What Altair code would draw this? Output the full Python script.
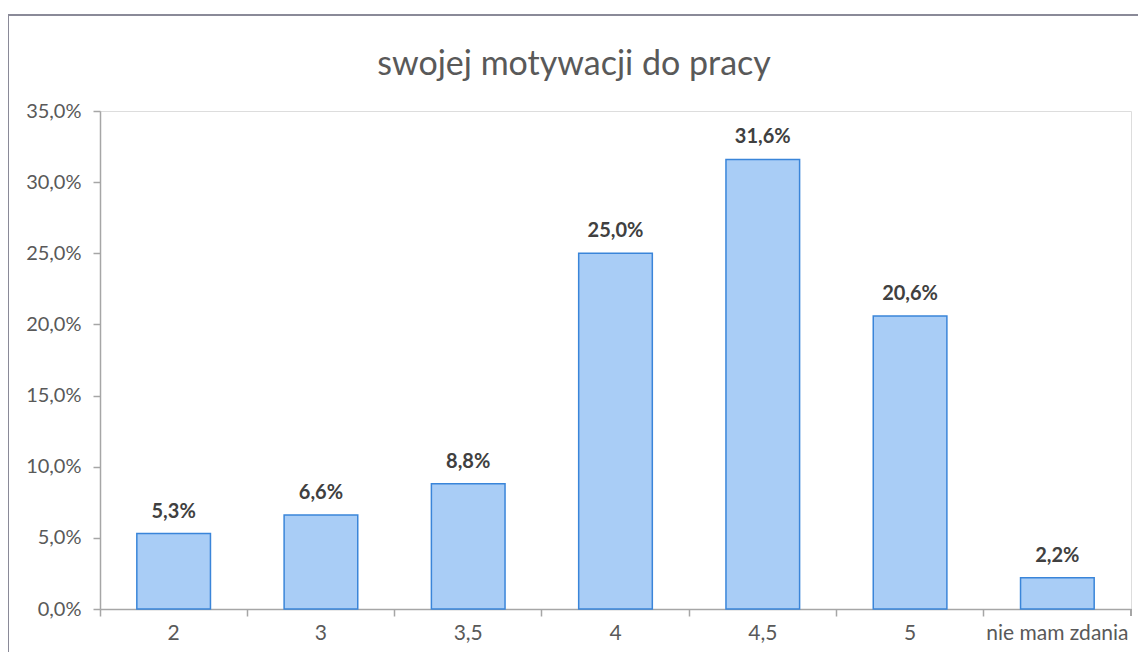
import altair as alt
import pandas as pd

categories = ["2", "3", "3,5", "4", "4,5", "5", "nie mam zdania"]
values = [5.3, 6.6, 8.8, 25.0, 31.6, 20.6, 2.2]
title_text = "swojej motywacji do pracy"

df = pd.DataFrame({"kat": categories, "val": values})
df["lab"] = [f"{v:.1f}%".replace(".", ",") for v in values]

FONT = "Lato"
GRAY = "#595959"

x = alt.X("kat:N", sort=categories, title=None,
          scale=alt.Scale(paddingInner=0.5, paddingOuter=0.25),
          axis=alt.Axis(labelAngle=0, labelFontSize=21, labelColor=GRAY, labelFont=FONT,
                        labelPadding=6, tickSize=7, tickColor="#a6a6a6", domainColor="#a6a6a6",
                        domainWidth=1.5, tickWidth=1.5, bandPosition=-0.5))
y = alt.Y("val:Q", title=None,
          scale=alt.Scale(domain=[0, 35], nice=False),
          axis=alt.Axis(values=[0, 5, 10, 15, 20, 25, 30, 35], grid=False,
                        labelExpr="replace(format(datum.value, '.1f'), '.', ',') + '%'",
                        labelFontSize=20, labelColor=GRAY, labelFont=FONT, labelPadding=12,
                        tickSize=7, tickColor="#a6a6a6", domainColor="#a6a6a6",
                        domainWidth=1.5, tickWidth=1.5))

base = alt.Chart(df)
bars = base.mark_bar(fill="#a9cdf6", stroke="#3a85d9", strokeWidth=1.5).encode(x=x, y=y)
text = base.mark_text(baseline="bottom", dy=-12, fontSize=20, fontWeight="bold",
                      color="#404040", font=FONT).encode(x=x, y=y, text="lab:N")

title = alt.Chart(pd.DataFrame({"t": [title_text]})).mark_text(
    fontSize=34, font=FONT, color=GRAY, baseline="alphabetic", align="center").encode(
    x=alt.value(474), y=alt.value(-36), text="t:N")

endtick = alt.Chart(df).mark_rule(color="#a6a6a6", strokeWidth=1.5).encode(
    x=alt.value(1031), y=alt.value(498), y2=alt.value(505))
border_top = alt.Chart(df).mark_rule(color="#8a8a98", strokeWidth=1.5).encode(
    x=alt.value(-92), x2=alt.value(1060), y=alt.value(-96))
border_left = alt.Chart(df).mark_rule(color="#8a8a98", strokeWidth=1.5).encode(
    x=alt.value(-92), y=alt.value(-96), y2=alt.value(560))

chart = alt.layer(bars, text, title, endtick, border_top, border_left).properties(
    width=1031, height=498,
    padding={"left": 92, "top": 103, "right": 7, "bottom": 43},
    autosize=alt.AutoSizeParams(type="none"),
).configure_view(stroke=None).configure(background="white")

chart.save("out.html", embed_options={"renderer": "svg", "actions": False})
